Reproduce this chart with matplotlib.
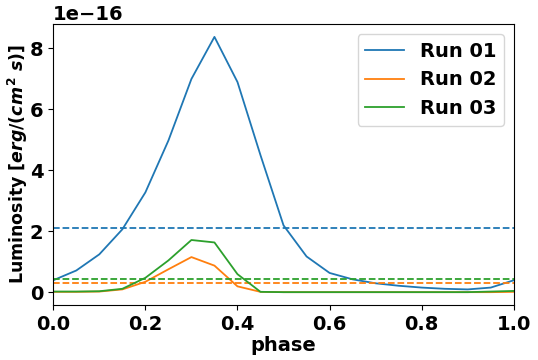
import matplotlib
matplotlib.use("Agg")
import matplotlib.pyplot as plt

plt.rcParams['font.weight'] = 'bold'
plt.rcParams['axes.labelweight'] = 'bold'
plt.rcParams['font.size'] = 14

# phase grid and luminosity (units of 1e-16 erg/(cm^2 s))
phase = [0.0, 0.05, 0.1, 0.15, 0.2, 0.25, 0.3, 0.35, 0.4, 0.45, 0.5,
         0.55, 0.6, 0.65, 0.7, 0.75, 0.8, 0.85, 0.9, 0.95, 1.0]
run01 = [0.40, 0.72, 1.25, 2.07, 3.28, 4.98, 7.00, 8.38, 6.90, 4.50, 2.20,
         1.18, 0.64, 0.43, 0.30, 0.22, 0.16, 0.12, 0.10, 0.16, 0.40]
run02 = [0.02, 0.02, 0.03, 0.10, 0.35, 0.76, 1.16, 0.88, 0.20, 0.02, 0.01,
         0.01, 0.01, 0.01, 0.01, 0.01, 0.01, 0.01, 0.01, 0.01, 0.02]
run03 = [0.03, 0.03, 0.04, 0.12, 0.48, 1.05, 1.72, 1.64, 0.60, 0.02, 0.01,
         0.01, 0.01, 0.01, 0.01, 0.01, 0.01, 0.01, 0.01, 0.03, 0.05]
labels = ['Run 01', 'Run 02', 'Run 03']
means = [2.10, 0.30, 0.43]
colors = ['tab:blue', 'tab:orange', 'tab:green']

fig, ax = plt.subplots(figsize=(5.38, 3.6), dpi=100)
scale = 1e-16
for y, lab, c, m in zip([run01, run02, run03], labels, colors, means):
    ax.plot(phase, [v * scale for v in y], color=c, label=lab, lw=1.3)
    ax.axhline(m * scale, color=c, ls='--', lw=1.3)

ax.set_xlim(0, 1)
ax.set_xlabel('phase', labelpad=2)
ax.set_ylabel(r'Luminosity [$erg/(cm^2\ s)$]', fontsize=12.5, labelpad=0)
ax.legend(loc='upper right')

fig.subplots_adjust(left=0.099, right=0.955, top=0.933, bottom=0.153)
plt.savefig('out.png')
